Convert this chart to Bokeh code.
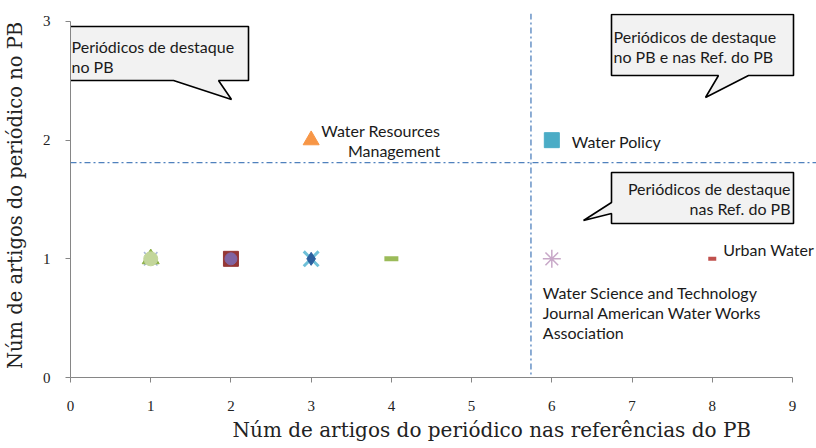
from bokeh.plotting import figure
from bokeh.models import Range1d, Span, FixedTicker, ColumnDataSource, Title
from bokeh.core.properties import value
from bokeh.embed import file_html
from bokeh.resources import INLINE

# ---------------- data ----------------
x_ticks = [0, 1, 2, 3, 4, 5, 6, 7, 8, 9]
y_ticks = [0, 1, 2, 3]

# marker points: (refs in PB, articles in PB)
pt_refs = [1, 1, 1, 2, 2, 3, 3, 3, 6, 6]
pt_pb   = [1, 1, 1, 1, 1, 1, 1, 2, 2, 1]
pt_marker = ["x", "triangle", "circle", "square", "circle", "x", "diamond", "triangle", "square", "asterisk"]
pt_fill = ["#A9B8D8", "#8DB04A", "#C3D69B", "#953735", "#8064A2", "#4BACC6", "#2C5F9E", "#F79646", "#4BACC6", "#C8A8C8"]
pt_line = ["#A9B8D8", "#8DB04A", "#C3D69B", "#953735", "#8064A2", "#6FC0D8", "#2C5F9E", "#F79646", "#4BACC6", "#C8A8C8"]
pt_size = [19, 17, 14, 15, 12, 21, 13, 16, 15, 18]
pt_lw = [1.5, 1, 1, 1, 1, 3, 1, 1, 1, 1.5]

# dash markers
dash_refs = [4, 8]
dash_pb = [1, 1]
dash_color = ["#9BBB59", "#C0504D"]
dash_w = [14, 8]
dash_h = [5, 4]

# point labels
lbl_refs = [3, 3, 6, 8, 6, 6, 6]
lbl_pb = [2, 2, 2, 1, 1, 1, 1]
lbl_text = ["Water Resources", "Management", "Water Policy", "Urban Water",
            "Water Science and Technology", "Journal American Water Works", "Association"]

# thresholds
thr_refs = 5.74
thr_pb = 1.81

x_title = "Núm de artigos do periódico nas referências do PB"
y_title = "Núm de artigos do periódico no PB"

callout_texts = [
    ["Periódicos de destaque", "no PB"],
    ["Periódicos de destaque", "no PB e nas Ref. do PB"],
    ["Periódicos de destaque", "nas Ref. do PB"],
]

# ---------------- figure ----------------
XPX = 80.22   # px per x unit
YPX = 118.67  # px per y unit
FW, FH = 746, 364
p = figure(frame_width=FW, frame_height=FH, output_backend="svg", toolbar_location=None,
           x_range=Range1d(0, FW / XPX), y_range=Range1d(0, FH / YPX),
           min_border_left=70, min_border_right=0, min_border_top=13, min_border_bottom=71)
p.outline_line_color = None
p.xgrid.visible = False
p.ygrid.visible = False
p.background_fill_color = "white"
p.border_fill_color = "white"

for ax in (p.xaxis[0], p.yaxis[0]):
    ax.axis_line_color = "#868686"
    ax.major_tick_line_color = "#868686"
    ax.major_tick_out = 5
    ax.major_tick_in = 0
    ax.minor_tick_line_color = None
    ax.major_label_text_font = "Liberation Serif"
    ax.major_label_text_font_size = "15px"
    ax.major_label_text_color = "#222222"
    ax.axis_label_text_font = "DejaVu Serif"
    ax.axis_label_text_font_size = "19.5px"
    ax.axis_label_text_font_style = "normal"
    ax.axis_label_text_color = "#222222"

p.xaxis.ticker = FixedTicker(ticks=x_ticks)
p.yaxis.ticker = FixedTicker(ticks=y_ticks)
p.xaxis.bounds = (0, 9)
p.yaxis.bounds = (0, 3)
p.xaxis.major_label_standoff = 18
p.yaxis.major_label_standoff = 15
p.yaxis.axis_label = y_title
p.yaxis.axis_label_standoff = 13

# x-axis title, placed off-centre as in the reference
p.add_layout(Title(text=x_title, align="left", offset=162, standoff=5,
                   text_font="DejaVu Serif", text_font_size="20px",
                   text_font_style="normal", text_color="#222222"), "below")

# threshold lines
p.add_layout(Span(location=thr_refs, dimension="height", line_color="#4F81BD",
                  line_width=1.3, line_dash="6 3 2 3"))
p.add_layout(Span(location=thr_pb, dimension="width", line_color="#4F81BD",
                  line_width=1.3, line_dash="6 3 2 3"))

# helper to convert reference pixel positions (annotation geometry) to data
X0, Y0 = 70.0, 377.0
def dx(px):
    return (px - X0) / XPX
def dy(py):
    return (Y0 - py) / YPX

callout_shapes = [
    [(68, 26), (248, 26), (248, 80), (218, 80), (231, 99), (173, 80), (68, 80)],
    [(611, 14), (793, 14), (793, 75), (748, 75), (705, 97), (718, 75), (611, 75)],
    [(611, 172), (793, 172), (793, 223), (611, 223), (611, 213), (583, 220), (611, 202)],
]
for shape in callout_shapes:
    p.patch([dx(a) for a, b in shape], [dy(b) for a, b in shape],
            fill_color="#F2F2F2", line_color="#000000", line_width=1.6)

# callout texts
ct_x = [dx(71), dx(71), dx(613), dx(613), dx(790), dx(790)]
ct_y = [dy(46), dy(66), dy(36), dy(56), dy(188), dy(208)]
ct_t = [callout_texts[0][0], callout_texts[0][1], callout_texts[1][0], callout_texts[1][1],
        callout_texts[2][0], callout_texts[2][1]]
ct_align = ["left", "left", "left", "left", "right", "right"]
p.text(x=ct_x, y=ct_y, text=ct_t, text_align=ct_align, text_baseline="middle",
       text_font=value("Lato"), text_font_size="16px", text_color="#1a1a1a")

# markers
src = ColumnDataSource(dict(x=pt_refs, y=pt_pb, marker=pt_marker, fill=pt_fill,
                            line=pt_line, size=pt_size, lw=pt_lw))
p.scatter(x="x", y="y", marker="marker", size="size", fill_color="fill",
          line_color="line", line_width="lw", source=src)

p.rect(x=dash_refs, y=dash_pb, width=dash_w, height=dash_h, width_units="screen",
       height_units="screen", fill_color=dash_color, line_color=None)

# point labels
lbl_xoff = [129, 129, 20, 11, -9, -9, -9]
lbl_yoff = [-10, 10, 1, -9, 34, 54, 74]
lbl_align = ["right", "right", "left", "left", "left", "left", "left"]
p.text(x=lbl_refs, y=lbl_pb, text=lbl_text, x_offset=lbl_xoff, y_offset=lbl_yoff,
       text_align=lbl_align, text_baseline="middle",
       text_font=value("Lato"), text_font_size="16px", text_color="#1a1a1a")

open("out.html", "w").write(file_html(p, INLINE))
